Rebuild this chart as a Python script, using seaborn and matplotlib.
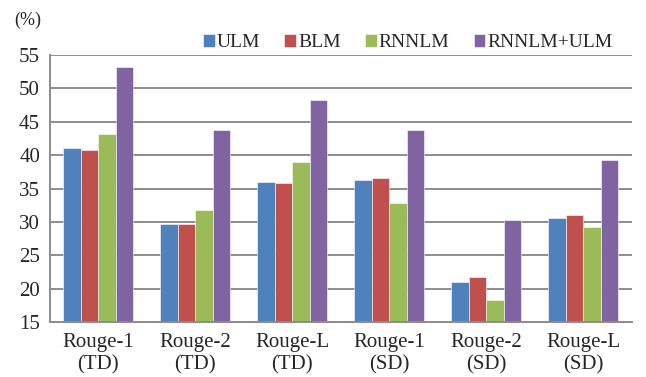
import pandas as pd
import matplotlib
matplotlib.use("Agg")
import matplotlib.pyplot as plt
import seaborn as sns

# data
groups = ["Rouge-1\n(TD)", "Rouge-2\n(TD)", "Rouge-L\n(TD)",
          "Rouge-1\n(SD)", "Rouge-2\n(SD)", "Rouge-L\n(SD)"]
models = ["ULM", "BLM", "RNNLM", "RNNLM+ULM"]
ulm = [41.0, 29.7, 36.0, 36.3, 21.0, 30.6]
blm = [40.7, 29.7, 35.8, 36.6, 21.7, 31.1]
rnnlm = [43.2, 31.8, 38.9, 32.9, 18.3, 29.3]
rnnlm_ulm = [53.2, 43.8, 48.2, 43.8, 30.3, 39.2]
yticks = [15, 20, 25, 30, 35, 40, 45, 50, 55]

colors = ["#4F81BD", "#C0504D", "#9BBB59", "#8064A2"]

rows = []
for name, vals in zip(models, [ulm, blm, rnnlm, rnnlm_ulm]):
    for g, v in zip(groups, vals):
        rows.append({"group": g, "model": name, "value": v})
df = pd.DataFrame(rows)

sns.set_style("white")
plt.rcParams["font.family"] = ["Liberation Serif", "DejaVu Serif"]

fig = plt.figure(figsize=(6.46, 3.77), dpi=100)
ax = fig.add_axes([0.077, 0.146, 0.901, 0.708])

sns.barplot(data=df, x="group", y="value", hue="model", order=groups,
            hue_order=models, palette=colors, saturation=1, width=0.72, gap=0,
            edgecolor="white", linewidth=0.4, ax=ax)

ax.set_ylim(15, 55)
ax.set_xlim(-0.5, len(groups) - 0.5)
ax.set_yticks(yticks)
ax.yaxis.grid(True, color="#8c8c8c", linewidth=1.4)
ax.set_axisbelow(True)
ax.set_xlabel("")
ax.set_ylabel("")

for side in ["top", "right"]:
    ax.spines[side].set_visible(False)
for side in ["left", "bottom"]:
    ax.spines[side].set_color("#8c8c8c")
    ax.spines[side].set_linewidth(1.4)

ax.tick_params(axis="y", labelsize=15, length=4, color="#8c8c8c", pad=3)
ax.tick_params(axis="x", which="major", labelsize=15, length=0, pad=8)
ax.set_xticks([i - 0.5 for i in range(len(groups) + 1)], minor=True)
ax.tick_params(axis="x", which="minor", length=5, color="#8c8c8c", width=1.2)

handles, labels = ax.get_legend_handles_labels()
ax.legend(handles, labels, ncol=4, frameon=False, fontsize=14,
          loc="lower right", bbox_to_anchor=(0.98, 0.985),
          handlelength=0.6, handleheight=0.6, handletextpad=0.1,
          columnspacing=1.25, borderaxespad=0)

fig.text(0.022, 0.935, "(%)", fontsize=13)

fig.savefig("out.png", dpi=100)
